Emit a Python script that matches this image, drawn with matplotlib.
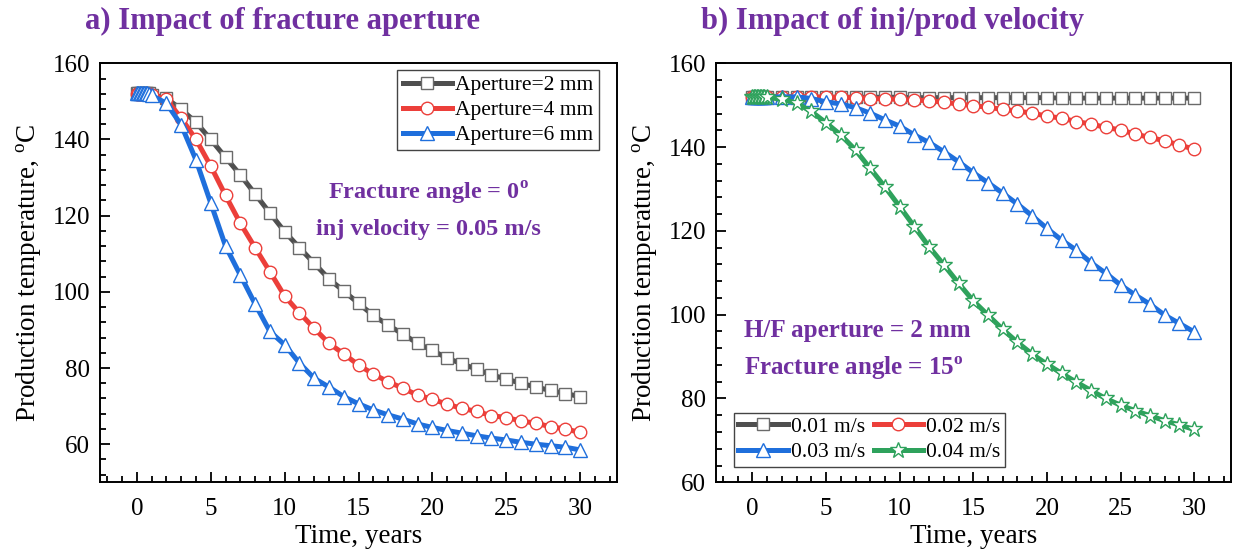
import matplotlib
matplotlib.use("agg")
import matplotlib.pyplot as plt
from matplotlib.ticker import MultipleLocator

plt.rcParams["font.family"] = ["Liberation Serif", "DejaVu Serif"]
plt.rcParams["mathtext.fontset"] = "custom"
plt.rcParams["mathtext.rm"] = "Liberation Serif"
plt.rcParams["mathtext.bf"] = "Liberation Serif:bold"

# simulation output times (dense at the start, yearly afterwards)
time = [0, 0.1, 0.2, 0.3, 0.4, 0.5, 0.6, 0.7, 0.8, 1,
        2, 3, 4, 5, 6, 7, 8, 9, 10, 11, 12, 13, 14, 15, 16,
        17, 18, 19, 20, 21, 22, 23, 24, 25, 26, 27, 28, 29, 30]

# a) fracture aperture
aperture_2mm = [152.2, 152.2, 152.2, 152.2, 152.2, 152.2, 152.2, 152.2, 152.1, 151.8,
                150.8, 147.9, 144.5, 140.0, 135.3, 130.7, 125.7, 120.7, 115.8, 111.6,
                107.5, 103.4, 100.2, 97.0, 93.8, 91.3, 88.9, 86.5, 84.6, 82.6,
                81.1, 79.7, 78.2, 77.1, 76.0, 75.0, 74.1, 73.3, 72.5]
aperture_4mm = [152.0, 152.0, 152.0, 152.0, 152.0, 152.0, 152.0, 152.0, 151.9, 151.6,
                150.5, 145.6, 140.0, 133.0, 125.3, 118.0, 111.6, 105.3, 98.9, 94.5,
                90.4, 86.5, 83.7, 80.8, 78.4, 76.4, 74.7, 72.9, 71.8, 70.5,
                69.4, 68.6, 67.5, 67.0, 66.1, 65.5, 64.6, 64.0, 63.1]
aperture_6mm = [152.2, 152.2, 152.2, 152.2, 152.2, 152.2, 152.2, 152.1, 152.0, 151.6,
                149.5, 143.8, 134.6, 123.3, 112.0, 104.4, 96.8, 89.6, 86.1, 81.3,
                77.3, 75.0, 72.5, 70.6, 69.0, 67.7, 66.6, 65.3, 64.4, 63.6,
                62.9, 62.2, 61.6, 61.1, 60.5, 60.0, 59.6, 59.2, 58.5]

# b) injection / production velocity
vel_001 = [152.0, 152.0, 152.0, 152.0, 152.0, 152.0, 152.0, 152.0, 152.0, 152.0,
           151.9, 151.9, 151.9, 151.9, 151.9, 151.9, 151.9, 151.9, 151.9, 151.8,
           151.8, 151.8, 151.8, 151.8, 151.8, 151.8, 151.8, 151.8, 151.8, 151.7,
           151.7, 151.7, 151.7, 151.7, 151.7, 151.7, 151.7, 151.7, 151.7]
vel_002 = [152.0, 152.0, 152.0, 152.0, 152.0, 152.0, 152.0, 152.0, 152.0, 152.0,
           152.0, 152.0, 152.0, 151.9, 151.9, 151.8, 151.6, 151.5, 151.4, 151.2,
           151.1, 150.7, 150.3, 149.9, 149.5, 149.0, 148.6, 148.1, 147.4, 146.9,
           146.1, 145.5, 144.7, 144.1, 143.1, 142.3, 141.5, 140.5, 139.5]
vel_003 = [152.0, 152.0, 152.0, 152.0, 152.0, 152.0, 152.0, 152.0, 152.0, 152.0,
           152.0, 152.0, 151.6, 150.8, 150.3, 149.4, 148.1, 146.5, 145.0, 142.9,
           141.1, 138.9, 136.5, 133.9, 131.5, 129.0, 126.4, 123.6, 120.6, 117.8,
           115.4, 112.4, 109.9, 107.1, 104.7, 102.5, 99.9, 97.9, 95.9]
vel_004 = [152.0, 152.0, 152.0, 152.0, 152.0, 152.0, 152.0, 152.0, 152.0, 151.9,
           151.4, 150.5, 148.5, 145.8, 142.9, 139.3, 134.9, 130.5, 125.8, 121.0,
           116.2, 111.9, 107.5, 103.3, 99.9, 96.5, 93.4, 90.6, 88.2, 86.0,
           83.9, 81.9, 80.0, 78.4, 77.1, 75.9, 74.7, 73.7, 72.6]

PURPLE = "#7030a0"
GREY, RED, BLUE, GREEN = "#4f4f4f", "#ec3f3a", "#1f6fdc", "#2ea25c"


def style_axes(ax, ylim, ytick_major):
    ax.set_xlim(-2.5, 32.5)
    ax.set_ylim(*ylim)
    ax.xaxis.set_major_locator(MultipleLocator(5))
    ax.xaxis.set_minor_locator(MultipleLocator(1))
    ax.yaxis.set_major_locator(MultipleLocator(ytick_major))
    ax.yaxis.set_minor_locator(MultipleLocator(4))
    ax.tick_params(which="both", direction="in", top=False, right=False, width=1.3, labelsize=18)
    ax.tick_params(which="major", length=7)
    ax.tick_params(which="minor", length=4)
    ax.tick_params(axis="x", which="major", pad=11)
    ax.tick_params(axis="y", which="major", pad=7)
    for s in ax.spines.values():
        s.set_linewidth(1.4)
    ax.set_xlabel("Time, years", fontsize=19.5, labelpad=3)
    ax.set_ylabel("Production temperature, $^{\\mathrm{o}}$C", fontsize=19.5, labelpad=6)


def curve(ax, y, color, edge, marker, ms, label):
    return ax.plot(time, y, color=color, lw=3.6, marker=marker, ms=ms, mfc="white",
                   mec=edge, mew=1.0, label=label)[0]


fig = plt.figure(figsize=(12.39, 5.52), dpi=100)
ax1 = fig.add_axes([0.0807, 0.1263, 0.4173, 0.759])
ax2 = fig.add_axes([0.5776, 0.1263, 0.4159, 0.759])

curve(ax1, aperture_2mm, GREY, "#6a6a6a", "s", 8.3, "Aperture=2 mm")
curve(ax1, aperture_4mm, RED, RED, "o", 9, "Aperture=4 mm")
curve(ax1, aperture_6mm, BLUE, BLUE, "^", 10.5, "Aperture=6 mm")
style_axes(ax1, (50, 160), 20)
leg1 = ax1.legend(loc="upper right", bbox_to_anchor=(0.965, 0.984), fontsize=15.5,
                  fancybox=False, edgecolor="#444444", framealpha=1, handlelength=2.3,
                  handletextpad=0.15, labelspacing=0.22, borderpad=0.25, borderaxespad=0)
leg1.get_frame().set_linewidth(1.0)
ax1.text(0.635, 0.69, "Fracture angle = 0$^{\\mathbf{o}}$", transform=ax1.transAxes,
         ha="center", va="center", fontsize=17.5, fontweight="bold", color=PURPLE)
ax1.text(0.635, 0.603, "inj velocity = 0.05 m/s", transform=ax1.transAxes,
         ha="center", va="center", fontsize=17.5, fontweight="bold", color=PURPLE)

h1 = curve(ax2, vel_001, GREY, "#6a6a6a", "s", 8.3, "0.01 m/s")
h2 = curve(ax2, vel_002, RED, RED, "o", 9, "0.02 m/s")
h3 = curve(ax2, vel_003, BLUE, BLUE, "^", 10.5, "0.03 m/s")
h4 = curve(ax2, vel_004, GREEN, GREEN, "*", 12, "0.04 m/s")
style_axes(ax2, (60, 160), 20)
# row-wise order: 0.01 | 0.02 on top, 0.03 | 0.04 below
leg2 = ax2.legend([h1, h3, h2, h4], ["0.01 m/s", "0.03 m/s", "0.02 m/s", "0.04 m/s"],
                  loc="lower left", bbox_to_anchor=(0.035, 0.037), ncol=2, fontsize=15.5,
                  fancybox=False, edgecolor="#444444", framealpha=1, handlelength=2.3,
                  handletextpad=0.15, labelspacing=0.25, columnspacing=0.4, borderpad=0.2,
                  borderaxespad=0)
leg2.get_frame().set_linewidth(1.0)
ax2.text(0.055, 0.362, "H/F aperture = 2 mm", transform=ax2.transAxes,
         ha="left", va="center", fontsize=18, fontweight="bold", color=PURPLE)
ax2.text(0.055, 0.273, "Fracture angle = 15$^{\\mathbf{o}}$", transform=ax2.transAxes,
         ha="left", va="center", fontsize=18, fontweight="bold", color=PURPLE)

fig.text(0.228, 0.962, "a) Impact of fracture aperture", ha="center", va="center",
         fontsize=22, fontweight="bold", color=PURPLE)
fig.text(0.72, 0.962, "b) Impact of inj/prod velocity", ha="center", va="center",
         fontsize=22, fontweight="bold", color=PURPLE)

fig.savefig("out.png", dpi=100)
